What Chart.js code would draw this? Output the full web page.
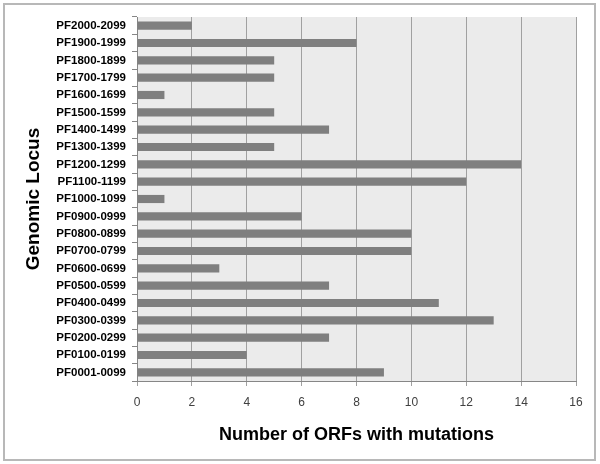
<!DOCTYPE html>
<html>
<head>
<meta charset="utf-8">
<script src="https://cdn.jsdelivr.net/npm/chart.js@4"></script>
<style>
  html,body{margin:0;padding:0;background:#fff;}
  #wrap{position:relative;width:600px;height:464px;}
  #frame{position:absolute;left:3px;top:3px;width:593px;height:458px;border:2px solid #b8b8b8;box-sizing:border-box;pointer-events:none;}
  canvas{display:block;}
</style>
</head>
<body>
<div id="wrap">
  <canvas id="c" width="600" height="464"></canvas>
  <div id="frame"></div>
</div>
<script>
const loci = ["PF2000-2099","PF1900-1999","PF1800-1899","PF1700-1799","PF1600-1699","PF1500-1599",
  "PF1400-1499","PF1300-1399","PF1200-1299","PF1100-1199","PF1000-1099","PF0900-0999","PF0800-0899",
  "PF0700-0799","PF0600-0699","PF0500-0599","PF0400-0499","PF0300-0399","PF0200-0299","PF0100-0199","PF0001-0099"];
const orfs = [2,8,5,5,1,5,7,5,14,12,1,6,10,10,3,7,11,13,7,4,9];
const xMin = 0, xMax = 16, xStep = 2;

const plotBg = {
  id:'plotBg',
  beforeDraw(chart){
    const {ctx, chartArea:a} = chart;
    ctx.save(); ctx.fillStyle = '#ebebeb';
    ctx.fillRect(a.left, a.top, a.right-a.left, a.bottom-a.top);
    ctx.restore();
  }
};

new Chart(document.getElementById('c').getContext('2d'), {
  type:'bar',
  data:{labels:loci, datasets:[{data:orfs, backgroundColor:'#7f7f7f', borderWidth:0,
    categoryPercentage:1, barPercentage:0.47}]},
  options:{
    indexAxis:'y', responsive:false, animation:false,
    layout:{padding:{left:0,right:24,top:17,bottom:8}},
    plugins:{legend:{display:false}, tooltip:{enabled:false}},
    scales:{
      x:{min:xMin, max:xMax,
        ticks:{stepSize:xStep, color:'#404040', padding:9, font:{family:'Liberation Sans', size:12}},
        grid:{color:'#a0a0a0', lineWidth:1, tickLength:5},
        border:{color:'#868686'},
        title:{display:true, text:'Number of ORFs with mutations', color:'#000',
          font:{family:'Liberation Sans', size:18, weight:'bold'}, padding:{top:4, bottom:10}},
        afterFit(s){ s.height = 75; }
      },
      y:{
        ticks:{color:'#000', padding:6, font:{family:'Liberation Sans', size:11.5, weight:'bold'}},
        grid:{drawOnChartArea:false, color:'#868686', tickLength:5, offset:true},
        border:{color:'#868686'},
        title:{display:true, text:'Genomic Locus', color:'#000',
          font:{family:'Liberation Sans', size:19, weight:'bold'}, padding:{top:22, bottom:4}},
        afterFit(s){ s.width = 137; }
      }
    }
  },
  plugins:[plotBg]
});
</script>
</body>
</html>
